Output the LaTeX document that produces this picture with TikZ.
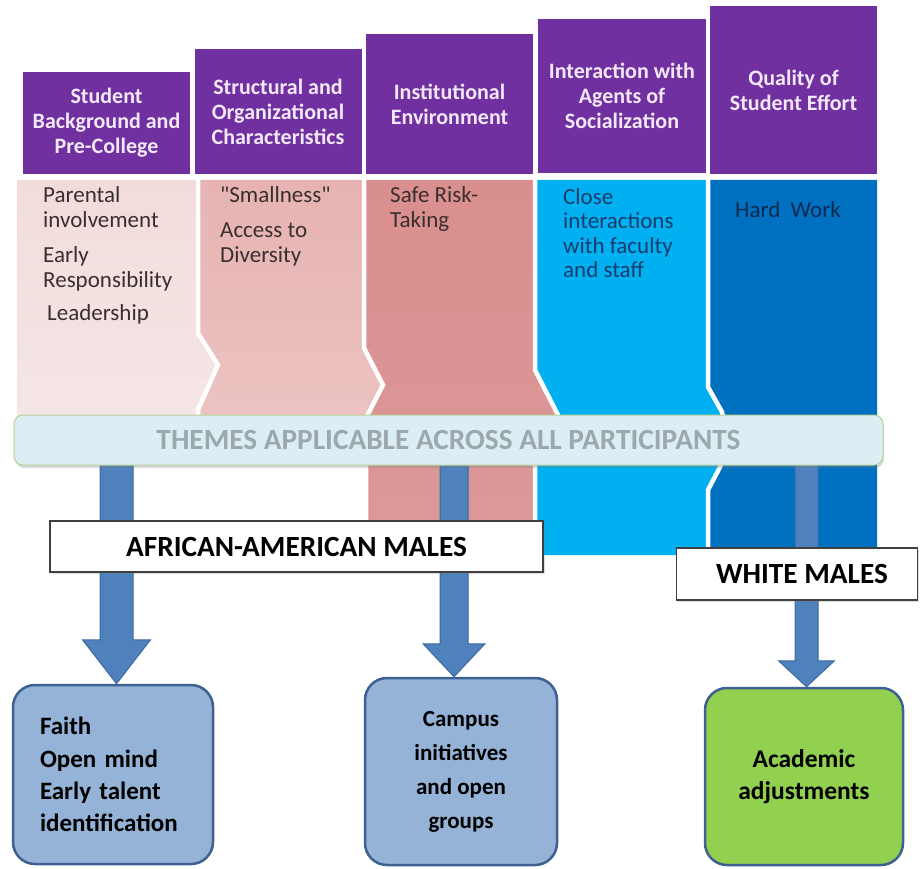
\documentclass[tikz,border=0pt]{standalone}
\usepackage{fontspec}
\setmainfont{Carlito}
\usetikzlibrary{calc,shadows}
\definecolor{hdrpurple}{HTML}{7030A0}
\definecolor{hdrtext}{HTML}{F3E8F8}
\definecolor{pa}{HTML}{F2DCDB}
\definecolor{paB}{HTML}{F6E8E8}
\definecolor{pb}{HTML}{E6B3B2}
\definecolor{pbB}{HTML}{EDC6C5}
\definecolor{pc}{HTML}{D98F8E}
\definecolor{pcB}{HTML}{DC9998}
\definecolor{pd}{HTML}{00B0F0}
\definecolor{pe}{HTML}{0070C0}
\definecolor{txtdark}{HTML}{3A2F2F}
\definecolor{txtnavy}{HTML}{1A3D6E}
\definecolor{txtnavyB}{HTML}{0E2A4F}
\definecolor{themefill}{HTML}{DBEEF4}
\definecolor{themeedge}{HTML}{B9D096}
\definecolor{themetext}{HTML}{9DA7AE}
\definecolor{arrowfill}{HTML}{4F81BD}
\definecolor{arrowedge}{HTML}{3B6AA0}
\definecolor{boxblue}{HTML}{95B3D7}
\definecolor{boxedge}{HTML}{3D6190}
\definecolor{boxgreen}{HTML}{92D050}
\definecolor{labeledge}{HTML}{404040}
\newcommand\straightdq{\XeTeXglyph\XeTeXcharglyph"22\relax}
\newcommand\blockarrowdraw[5]{%
  \filldraw[blockarrow] let \p1=(#1), \p2=(#1 |- #2) in
  (\x1-#3,\y1) -- (\x1+#3,\y1) -- (\x1+#3,\y2+#5) -- (\x1+#4,\y2+#5) -- (\x2,\y2)
  -- (\x1-#4,\y2+#5) -- (\x1-#3,\y2+#5) -- cycle;}
\begin{document}
\begin{tikzpicture}[x=1pt,y=-1pt,
  hdr/.style={fill=hdrpurple, text=hdrtext, font=\bfseries\fontsize{22}{25}\selectfont,
    align=center, inner sep=0pt, minimum width=167pt},
  ptext/.style={font=\fontsize{23}{25}\selectfont, text=txtdark, align=left, inner sep=0pt, anchor=base west},
  sep/.style={draw=white, line width=4.5pt, line join=miter},
  blockarrow/.style={fill=arrowfill, draw=arrowedge, line width=1pt},
  label/.style={draw=labeledge, fill=white, line width=1.5pt, inner sep=0pt,
    font=\bfseries\fontsize{29.3}{31}\selectfont,
    drop shadow={shadow xshift=1.5pt, shadow yshift=-2pt, opacity=0.25}},
  outbox/.style={draw=boxedge, line width=2.5pt, rounded corners=22pt, inner sep=0pt}
]
\useasboundingbox (0,0) rectangle (920,869);

% headers
\node[hdr, minimum height=102pt] (h1) at (106.5,123) {Student\\Background and\\Pre-College};
\node[hdr, minimum height=125pt] (h2) at (278,111.5) {Structural and\\Organizational\\Characteristics};
\node[hdr, minimum height=140pt] (h3) at (449.5,104) {Institutional\\Environment};
\node[hdr, minimum height=154pt, minimum width=168pt] (h4) at (622,96) {Interaction with\\Agents of\\Socialization};
\node[hdr, minimum height=168pt] (h5) at (793.5,90) {Quality of\\Student Effort};

% panels
\shade[top color=pa, bottom color=paB] (17,180) -- (198,180) -- (198,333) -- (218,365) -- (198,410) -- (198,462) -- (17,462) -- cycle;
\shade[top color=pb, bottom color=pbB] (198,180) -- (364,180) -- (364,348) -- (383,385) -- (366,418) -- (366,462)
  -- (198,462) -- (198,410) -- (218,365) -- (198,333) -- cycle;
\shade[top color=pc, bottom color=pcB] (364,180) -- (535,180) -- (535,370) -- (558,415) -- (535,462) -- (535,555)
  -- (366,555) -- (366,418) -- (383,385) -- (364,348) -- cycle;
\fill[pd] (535,180) -- (708,180) -- (708,387) -- (722,412) -- (728,440) -- (720,467) -- (708,490) -- (708,555)
  -- (535,555) -- (535,462) -- (558,415) -- (535,370) -- cycle;
\fill[pe] (708,180) -- (877,180) -- (877,555) -- (708,555) -- (708,490) -- (720,467) -- (728,440) -- (722,412)
  -- (708,387) -- cycle;
\draw[sep] (198,178) -- (198,333) -- (218,365) -- (198,410) -- (198,470);
\draw[sep] (364,178) -- (364,348) -- (383,385) -- (366,418) -- (366,560);
\draw[sep] (535,178) -- (535,370) -- (558,415) -- (535,462) -- (535,560);
\draw[sep] (708,178) -- (708,387) -- (722,412) -- (728,440) -- (720,467) -- (708,490) -- (708,560);

% panel texts (anchor = baseline of the last line)
\node[ptext] (t1a) at (43,227) {Parental\\involvement};
\node[ptext] (t1b) at (43,287) {Early\\Responsibility};
\node[ptext] (t1c) at (47,320) {Leadership};
\node[ptext] (t2a) at (220,202) {\straightdq Smallness\straightdq};
\node[ptext] (t2b) at (220,262) {Access to\\Diversity};
\node[ptext] (t3a) at (390,227) {Safe Risk-\\Taking};
\node[ptext, text=txtnavy, font=\fontsize{23}{24.5}\selectfont] (t4a) at (563,277.5) {Close\\interactions\\with faculty\\and staff};
\node[ptext, text=txtnavyB, anchor=base] (t5a) at (788,217) {Hard\ \ Work};

% bottom boxes
\node[outbox, fill=boxblue, minimum width=200pt, minimum height=179pt, align=left, text width=146pt,
  font=\bfseries\fontsize{25}{32.3}\selectfont] (b1) at (113,774.5)
  {Faith\\Open mind\\Early talent\\identification};
\node[outbox, fill=boxblue, minimum width=192pt, minimum height=187pt, align=center,
  font=\bfseries\fontsize{23}{34}\selectfont] (b2) at (461,771.5)
  {Campus\\initiatives\\and open\\groups};
\node[outbox, fill=boxgreen, minimum width=198pt, minimum height=177pt, align=center,
  font=\bfseries\fontsize{25.5}{32}\selectfont] (b3) at (804,776.5)
  {Academic\\adjustments};

% arrows
\coordinate (s1) at (116.5,440);
\coordinate (s2) at (454,440);
\coordinate (s3) at (806.5,440);
\blockarrowdraw{s1}{b1.north}{16.5pt}{34pt}{44pt}
\blockarrowdraw{s2}{b2.north}{14pt}{31pt}{33pt}
\blockarrowdraw{s3}{b3.north}{11.5pt}{28pt}{26pt}

% themes bar
\node[draw=themeedge, fill=themefill, line width=1pt, rounded corners=9pt, minimum width=869pt,
  minimum height=50pt, inner sep=0pt, text=themetext, font=\bfseries\fontsize{29.3}{31}\selectfont,
  drop shadow={shadow xshift=1pt, shadow yshift=-3pt, opacity=0.3}] (themes) at (448.5,440)
  {THEMES APPLICABLE ACROSS ALL PARTICIPANTS};

% group labels
\node[label, minimum width=493pt, minimum height=51pt] (aa) at (296.5,546.5) {AFRICAN-AMERICAN MALES};
\node[label, minimum width=241pt, minimum height=52pt] (wm) at (797,574) {\hspace*{10pt}WHITE MALES};
\end{tikzpicture}
\end{document}
